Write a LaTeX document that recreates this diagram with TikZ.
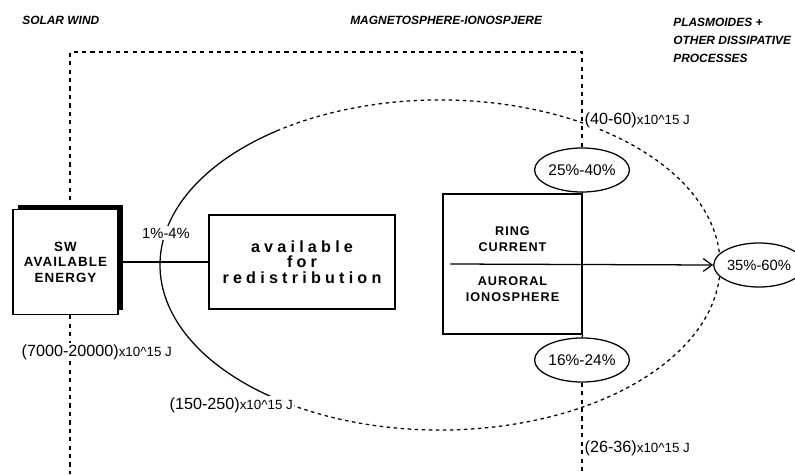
\documentclass[tikz,border=0pt]{standalone}
\usepackage{fontspec}
\setmainfont{Liberation Sans}
\newfontfamily\widefont[LetterSpace=26]{Liberation Sans}
\newfontfamily\capsfont[LetterSpace=8]{Liberation Sans}
\usetikzlibrary{arrows.meta,shapes.geometric,shadows}
\newcommand\enrg[1]{(#1){\fontsize{9.5}{10}\selectfont x10\textasciicircum15 J}}
\tikzset{
  % boxes of the energy budget
  srcbox/.style={rectangle,draw,line width=1pt,fill=white,
    minimum width=2.625cm,minimum height=2.625cm,align=center,inner sep=2pt,
    font=\capsfont\bfseries\fontsize{9.5}{11}\selectfont,
    drop shadow={shadow xshift=3.5pt,shadow yshift=3.5pt,fill=black,opacity=1}},
  redbox/.style={rectangle,draw,line width=1pt,fill=white,
    minimum width=4.65cm,minimum height=2.35cm,align=center,inner sep=2pt,
    font=\widefont\bfseries\fontsize{11.5}{11.2}\selectfont},
  sinkbox/.style={rectangle,draw,line width=1pt,fill=white,
    minimum width=3.475cm,minimum height=3.5cm,align=center,inner sep=2pt,
    font=\capsfont\bfseries\fontsize{9}{11.4}\selectfont},
  share/.style={ellipse,draw,line width=0.9pt,fill=white,inner sep=0pt,
    minimum height=1.1cm,font=\fontsize{11}{13}\selectfont},
  amount/.style={anchor=west,inner sep=1pt,font=\fontsize{11.5}{13}\selectfont},
  region/.style={anchor=west,inner sep=0pt,align=left,
    font=\bfseries\itshape\fontsize{8.5}{12.8}\selectfont},
  bound/.style={line width=0.9pt,dash pattern=on 3pt off 3pt},
  flow/.style={-{Straight Barb[length=2.2mm,width=3.2mm]},line width=0.9pt}
}
\begin{document}
\begin{tikzpicture}[x=0.025cm,y=-0.025cm]
  \useasboundingbox (0,0) rectangle (795,474);
  \clip (0,0) rectangle (795,474);
  % region titles
  \node[region] (tsw) at (22,20) {SOLAR WIND};
  \node[region] (tmag) at (350,20) {MAGNETOSPHERE-IONOSPJERE};
  \node[region] (tpla) at (673,40) {PLASMOIDES +\\OTHER DISSIPATIVE\\PROCESSES};
  % magnetosphere as an ellipse, solid on the day side
  \draw[line width=0.9pt] (279.4,129.8)
    arc[start angle=125,end angle=233,x radius=7cm,y radius=4.125cm];
  \draw[line width=0.9pt,dash pattern=on 2.5pt off 2.5pt] (271.5,396.8)
    arc[start angle=233,end angle=485,x radius=7cm,y radius=4.125cm];
  % boxes and shares
  \node[srcbox] (sw) at (65.5,262) {SW\\AVAILABLE\\ENERGY};
  \node[redbox] (redist) at (302,262) {available\\for\\redistribution};
  \node[sinkbox] (ring) at (512.5,264) {RING\\CURRENT\\[12.6pt]AURORAL\\IONOSPHERE};
  \node[share] (up) at (582,170) {25\%-40\%};
  \node[share] (down) at (582,360) {16\%-24\%};
  \node[share,font=\fontsize{10.5}{12}\selectfont] (out) at (759,265) {35\%-60\%};
  % energies
  \node[amount,fill=white] (e4060) at (583,120) {\enrg{40-60}};
  \node[amount] (e2636) at (583,448) {\enrg{26-36}};
  \node[amount] (e7000) at (20,352) {\enrg{7000-20000}};
  \node[amount,fill=white] (e150) at (168,405) {\enrg{150-250}};
  \node[fill=white,inner sep=1pt,font=\fontsize{10.5}{12}\selectfont] (pct) at (166,233) {1\%-4\%};
  % dashed borders between the regions
  \coordinate (tl) at (70,52);
  \coordinate (tr) at (582,52);
  \coordinate (bl) at (70,474);
  \coordinate (br) at (582,474);
  \draw[bound] (tl |- sw.north) -- (tl) -- (tr) -- (up.north);
  \draw[bound] (up.south) -- (ring.north east);
  \draw[bound] (ring.south east) -- (down.north);
  \draw[bound] (down.south) -- (br);
  \draw[bound] (tl |- sw.south) -- (tl |- e7000.north);
  \draw[bound] (tl |- e7000.south) -- (bl);
  % energy flow
  \coordinate (fin) at ([xshift=0.2cm]ring.west);
  \draw[line width=0.9pt] (sw.east) -- (redist.west);
  \draw[flow] (fin) -- (out.west);
\end{tikzpicture}
\end{document}
